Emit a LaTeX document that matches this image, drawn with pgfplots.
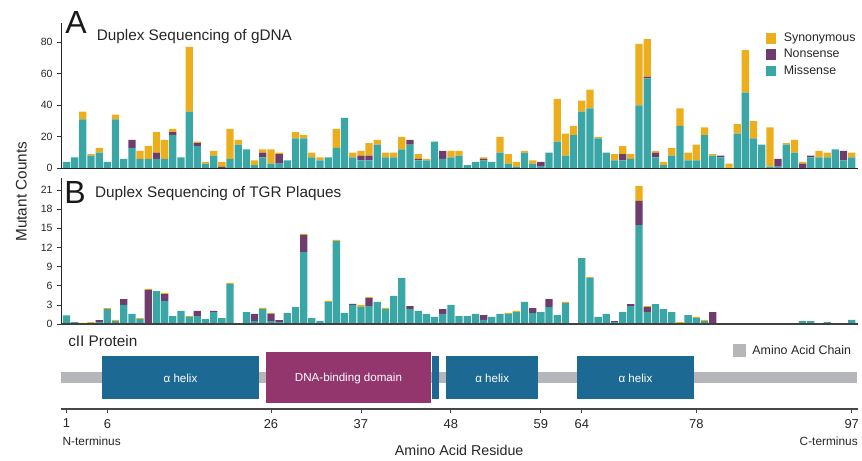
\documentclass[border=0pt]{standalone}
\usepackage{pgfplots}
\pgfplotsset{compat=1.18}
\usepackage{pgfplotstable}
\usepackage{fontspec}
\setmainfont{Liberation Sans}
\definecolor{miss}{RGB}{58,166,166}
\definecolor{nons}{RGB}{111,60,110}
\definecolor{syno}{RGB}{236,174,29}
\definecolor{helix}{RGB}{28,106,148}
\definecolor{dnab}{RGB}{147,54,110}
\definecolor{chain}{RGB}{181,182,185}
\definecolor{txt}{RGB}{38,38,38}

\pgfplotstableread{
x m n s
1 4 0 0
2 7 0 0
3 31 0 5
4 8 0 1
5 10 0 3
6 4 0 0
7 31 0 3
8 6 0 0
9 13 5 0
10 6 0 5
11 6 0 8
12 6 4 13
13 6 0 12
14 21 2 2
15 7 0 0
16 36 0 41
17 14 2 1
18 3 0 1
19 8 0 3
20 0 1 3
21 6 0 19
22 15 0 3
23 12 0 0
24 2 0 3
25 7 3 2
26 3 0 9
27 3 6 1
28 5 0 0
29 19 0 4
30 19 0 2
31 7 0 3
32 5 0 2
33 7 0 0
34 13 0 12
35 32 0 0
36 7 0 3
37 5 3 3
38 5 3 8
39 15 0 3
40 7 0 3
41 7 0 3
42 12 0 8
43 15 3 0
44 5 1 3
45 5 0 1
46 17 0 0
47 6 5 0
48 7 0 4
49 8 0 3
50 2 0 0
51 4 0 0
52 5 1 1
53 4 0 0
54 10 0 10
55 3 0 6
56 1 0 3
57 10 0 1
58 3 0 2
59 1 3 0
60 10 0 0
61 17 0 27
62 8 0 14
63 21 0 6
64 36 0 7
65 38 0 12
66 19 0 1
67 10 0 0
68 5 0 4
69 5 4 5
70 6 0 3
71 40 0 39
72 57 1 24
73 7 3 1
74 2 0 2
75 8 0 5
76 27 0 11
77 5 0 5
78 5 0 10
79 21 0 5
80 8 0 1
81 7 1 0
82 0 0 3
83 22 0 6
84 48 0 27
85 19 0 11
86 15 0 0
87 1 0 25
88 1 5 0
89 15 0 1
90 10 0 8
91 0 3 1
92 7 1 0
93 7 0 4
94 7 0 3
95 12 0 0
96 5 6 0
97 7 0 3
}\tabA

\pgfplotstableread{
x m n s
1 1.36 0 0
2 0.31 0 0
3 0 0 0.16
4 0.1 0 0.2
5 0.3 0.3 0
6 2.35 0 0.15
7 0.47 0 0.16
8 2.98 0.92 0
9 1.57 0 0
10 0.78 0 0.16
11 0 5.33 0.16
12 5.17 0 0
13 3.6 1.1 0.16
14 1.25 0 0
15 2.04 0 0
16 1.1 0 0.15
17 1.25 0.8 0
18 0.78 0 0
19 1.88 0.16 0
20 0.94 0 0
21 6.27 0 0.16
22 0 0 0.15
23 1.88 0 0
24 0.47 1.1 0
25 2.35 0 0.16
26 0.47 1.1 0.16
27 0.31 0.31 0
28 1.72 0 0
29 2.66 0 0
30 11.28 2.67 0.16
31 0.94 0 0
32 0.47 0 0
33 3.45 0 0.16
34 13.0 0 0.16
35 1.72 0 0
36 2.98 0.16 0
37 2.66 0 0.31
38 2.82 1.25 0.16
39 3.45 0 0
40 2.35 0 0.16
41 4.39 0 0
42 7.2 0 0
43 2.35 0.47 0
44 2.04 0 0
45 1.57 0 0
46 1.1 0 0
47 1.57 0.78 0
48 2.98 0 0
49 1.25 0 0
50 1.25 0 0
51 1.57 0 0
52 0.63 0.78 0
53 1.1 0 0
54 1.57 0 0
55 1.57 0 0.16
56 1.88 0 0.16
57 3.45 0 0
58 1.72 0.78 0
59 1.88 0 0
60 2.66 1.25 0
61 1.41 0 0
62 3.29 0 0.16
63 0 0 0
64 10.34 0 0
65 7.2 0 0.16
66 1.1 0 0
67 1.57 0 0
68 0.31 0.16 0
69 1.88 0 0
70 2.82 0.31 0
71 15.5 3.78 2.35
72 1.88 0.78 0.16
73 3.13 0 0
74 2.35 0 0
75 1.88 0 0
76 0 0 0.31
77 1.41 0 0
78 0.94 0 0.16
79 0.47 0 0.16
80 0 1.88 0
81 0 0 0
82 0 0 0
83 0 0 0
84 0 0 0
85 0 0 0
86 0 0 0
87 0 0 0
88 0 0 0
89 0 0 0
90 0 0 0
91 0.47 0 0
92 0.47 0 0
93 0 0 0
94 0.31 0 0
95 0 0 0
96 0 0 0
97 0.63 0 0
}\tabB

\pgfplotsset{
  barpanel/.style={
    width=597.45pt, scale only axis,
    xmin=0.37, xmax=97.76, ymin=0,
    axis x line=bottom, axis y line=left,
    x axis line style={-, line width=1.2pt, color=black!85},
    y axis line style={-, line width=0.7pt, color=black!85},
    xtick=\empty,
    tick align=outside, major tick length=3pt,
    tick style={color=black!80, line width=0.5pt},
    yticklabel style={font=\fontsize{7.9}{9}\selectfont, text=txt},
    /pgf/number format/assume math mode=true,
    ybar stacked, bar width=0.89,
    axis on top, clip=false,
  },
  sq/.style={legend image code/.code={\fill[##1] (0pt,-4pt) rectangle (8pt,4pt);}},
}

\begin{document}
\begin{tikzpicture}
\path[use as bounding box] (0,0) rectangle (646.5pt,-345pt);

% Panel A
\begin{axis}[barpanel,
  at={(45.975pt,-126.225pt)}, anchor=south west,
  height=109.2pt, ymax=92.4, ytick={0,20,40,60,80},
  reverse legend,
  legend style={draw=none, fill=none, at={(0.879,0.968)}, anchor=north west,
    font=\fontsize{9.3}{10}\selectfont, text=txt, row sep=0.3pt,
    /tikz/every odd column/.append style={column sep=3.5pt}},
  legend cell align=left,
]
\addplot[fill=miss, draw=none, sq] table[x=x,y=m]{\tabA};
\addlegendentry{Missense}
\addplot[fill=nons, draw=none, sq] table[x=x,y=n]{\tabA};
\addlegendentry{Nonsense}
\addplot[fill=syno, draw=none, sq] table[x=x,y=s]{\tabA};
\addlegendentry{Synonymous}
\end{axis}

% Panel B
\begin{axis}[barpanel,
  at={(45.975pt,-243pt)}, anchor=south west,
  height=109.3pt, ymax=22.83, ytick={0,3,6,9,12,15,18,21},
  x axis line style={-, line width=1.5pt, color=black!75},
]
\addplot[fill=miss, draw=none] table[x=x,y=m]{\tabB};
\addplot[fill=nons, draw=none] table[x=x,y=n]{\tabB};
\addplot[fill=syno, draw=none] table[x=x,y=s]{\tabB};
\end{axis}

% Protein panel
\begin{axis}[
  at={(45.975pt,-306.75pt)}, anchor=south west,
  width=597.45pt, height=59.25pt, scale only axis,
  xmin=0.37, xmax=97.76, ymin=-409, ymax=-330,
  axis x line=bottom, axis y line=none,
  x axis line style={-, line width=1.2pt, color=black!72},
  xtick={1,6,26,37,48,59,64,78,97},
  tick align=outside, major tick length=3pt,
  tick style={color=black!72, line width=0.6pt},
  xticklabel style={font=\fontsize{9.7}{11}\selectfont, text=txt, yshift=-1pt},
  /pgf/number format/assume math mode=true,
  clip=false,
  legend style={draw=none, fill=none, at={(0.838,0.88)}, anchor=north west,
    font=\fontsize{9.3}{10}\selectfont, text=txt,
    /tikz/every odd column/.append style={column sep=2.5pt}},
]
\addplot[fill=chain, draw=none, area legend,
  legend image code/.code={\fill[chain] (0pt,-5pt) rectangle (10pt,5pt);}]
  coordinates {(0.33,-372) (97.64,-372) (97.64,-383) (0.33,-383)} -- cycle;
\addlegendentry{Amino Acid Chain}
\addplot[fill=helix, draw=none, forget plot] coordinates {(5.31,-356) (24.57,-356) (24.57,-399) (5.31,-399)} -- cycle;
\addplot[fill=dnab, draw=none, forget plot] coordinates {(25.36,-352) (45.60,-352) (45.60,-403) (25.36,-403)} -- cycle;
\addplot[fill=helix, draw=none, forget plot] coordinates {(45.68,-356) (46.58,-356) (46.58,-399) (45.68,-399)} -- cycle;
\addplot[fill=helix, draw=none, forget plot] coordinates {(47.43,-356) (58.68,-356) (58.68,-399) (47.43,-399)} -- cycle;
\addplot[fill=helix, draw=none, forget plot] coordinates {(63.45,-356) (77.68,-356) (77.68,-399) (63.45,-399)} -- cycle;
\node[font=\fontsize{8.7}{10}\selectfont, text=white, anchor=base] at (axis cs:14.94,-382.5) {α helix};
\node[font=\fontsize{8.7}{10}\selectfont, text=white, anchor=base] at (axis cs:35.48,-381) {DNA-binding domain};
\node[font=\fontsize{8.7}{10}\selectfont, text=white, anchor=base] at (axis cs:53.05,-382.5) {α helix};
\node[font=\fontsize{8.7}{10}\selectfont, text=white, anchor=base] at (axis cs:70.56,-382.5) {α helix};
\end{axis}

% Texts
\begin{scope}[x=0.75pt, y=-0.75pt, inner sep=0pt]
\node[anchor=base west, font=\fontsize{24}{26}\selectfont, text=black!90] at (65.2,33.3) {A};
\node[anchor=base west, font=\fontsize{11.5}{13}\selectfont, text=txt] at (96.5,40.7) {Duplex Sequencing of gDNA};
\node[anchor=base west, font=\fontsize{24}{26}\selectfont, text=black!90] at (64.2,203.3) {B};
\node[anchor=base west, font=\fontsize{11.5}{13}\selectfont, text=txt] at (94.8,197.3) {Duplex Sequencing of TGR Plaques};
\node[anchor=base, rotate=90, font=\fontsize{11.5}{13}\selectfont, text=txt] at (26.7,191.7) {Mutant Counts};
\node[anchor=base west, font=\fontsize{11.5}{13}\selectfont, text=txt] at (68,346.7) {cII Protein};
\node[anchor=base west, font=\fontsize{8.9}{10}\selectfont, text=txt] at (62.4,445) {N-terminus};
\node[anchor=base east, font=\fontsize{8.9}{10}\selectfont, text=txt] at (858,445) {C-terminus};
\node[anchor=base, font=\fontsize{10.7}{12}\selectfont, text=txt] at (459.2,455) {Amino Acid Residue};
\end{scope}
\end{tikzpicture}
\end{document}
